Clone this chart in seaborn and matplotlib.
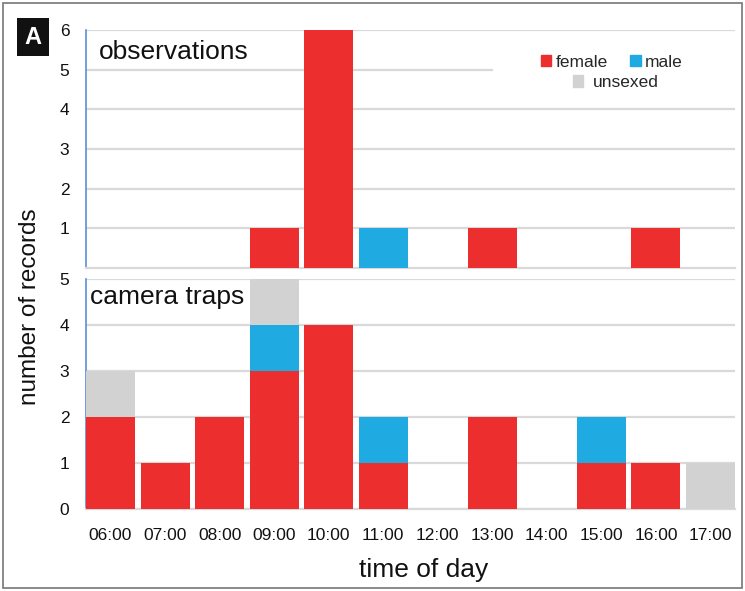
import numpy as np
import pandas as pd
import matplotlib
matplotlib.use('Agg')
import matplotlib.pyplot as plt
from matplotlib.patches import Patch, Rectangle
import seaborn as sns

# ─── Data ─────────────────────────────────────────────────────────────────────
hours = ["06:00", "07:00", "08:00", "09:00", "10:00", "11:00",
         "12:00", "13:00", "14:00", "15:00", "16:00", "17:00"]

obs_female   = [0, 0, 0, 1, 6, 0, 0, 1, 0, 0, 1, 0]
obs_male     = [0, 0, 0, 0, 0, 1, 0, 0, 0, 0, 0, 0]
obs_unsexed  = [0, 0, 0, 0, 0, 0, 0, 0, 0, 0, 0, 0]

cam_female   = [2, 1, 2, 3, 4, 1, 0, 2, 0, 1, 1, 0]
cam_male     = [0, 0, 0, 1, 0, 1, 0, 0, 0, 1, 0, 0]
cam_unsexed  = [1, 0, 0, 1, 0, 0, 0, 0, 0, 0, 0, 1]

C_FEMALE  = "#ED2E2E"
C_MALE    = "#1FAAE1"
C_UNSEXED = "#D2D2D2"
C_GRID    = "#D9D9D9"
C_SPINE   = "#5B8FD9"

sns.set_theme(style="white")
plt.rcParams['font.family'] = ['Liberation Sans', 'DejaVu Sans']

W, H = 745, 591
fig = plt.figure(figsize=(W / 100, H / 100), dpi=100)
ax_top = fig.add_axes([86/W, 1 - 268/H, 649/W, 238/H])
ax_bot = fig.add_axes([86/W, 1 - 509/H, 649/W, 230/H])


def stacked(ax, female, male, unsexed, ymax):
    df = pd.DataFrame({"hour": hours,
                       "female": female, "male": male, "unsexed": unsexed})
    df["fm"] = df["female"] + df["male"]
    df["all"] = df["fm"] + df["unsexed"]
    # draw cumulative layers, top layer first
    for col, c in [("all", C_UNSEXED), ("fm", C_MALE), ("female", C_FEMALE)]:
        sns.barplot(data=df, x="hour", y=col, order=hours, color=c,
                    saturation=1, width=0.9, linewidth=0, ax=ax, zorder=3)
    ax.set_xlim(-0.45, 11.45)
    ax.set_ylim(0, ymax)
    ax.set_xlabel("")
    ax.set_ylabel("")
    ax.yaxis.grid(True, color=C_GRID, linewidth=1.6, zorder=0)
    ax.set_axisbelow(True)
    for s in ["top", "right"]:
        ax.spines[s].set_visible(False)
    ax.spines["bottom"].set_color(C_GRID)
    ax.spines["bottom"].set_linewidth(1.6)
    ax.spines["left"].set_color(C_SPINE)
    ax.spines["left"].set_linewidth(1.2)
    ax.tick_params(axis="y", length=0, pad=12, labelsize=12.5, labelcolor="#111111")


stacked(ax_top, obs_female, obs_male, obs_unsexed, 6)
ax_top.set_yticks([1, 2, 3, 4, 5, 6])
ax_top.set_xticks([])
ax_top.text(0.02, 0.96, "observations", transform=ax_top.transAxes,
            fontsize=19, va="top", ha="left", color="#111111")

# white block behind the legend hides the grid lines there
ax_top.add_patch(Rectangle(((493 - 86) / 649, (268 - 102) / 238),
                           (735 - 493) / 649, 60 / 238,
                           transform=ax_top.transAxes, facecolor="white",
                           edgecolor="none", zorder=1))

stacked(ax_bot, cam_female, cam_male, cam_unsexed, 5)
ax_bot.set_yticks([0, 1, 2, 3, 4, 5])
ax_bot.tick_params(axis="x", length=0, pad=14, labelsize=12.5, labelcolor="#111111")
ax_bot.text(0.006, 0.975, "camera traps", transform=ax_bot.transAxes,
            fontsize=19, va="top", ha="left", color="#111111", zorder=5)

# legend in two rows: female / male, then unsexed centred below
leg1 = ax_top.legend(handles=[Patch(color=C_FEMALE, label="female"),
                              Patch(color=C_MALE, label="male")],
                     ncol=2, loc="upper left", bbox_to_anchor=(0.695, 0.91),
                     frameon=False, fontsize=12.5, handlelength=0.6,
                     handleheight=0.6, handletextpad=0.25, columnspacing=1.3,
                     borderpad=0.2, borderaxespad=0)
ax_top.add_artist(leg1)
leg2 = ax_top.legend(handles=[Patch(color=C_UNSEXED, label="unsexed")],
                     loc="upper left", bbox_to_anchor=(0.745, 0.825),
                     frameon=False, fontsize=12.5, handlelength=0.6,
                     handleheight=0.6, handletextpad=0.55,
                     borderpad=0.2, borderaxespad=0)

# axis titles
fig.text(30/W, 1 - 307/H, "number of records", rotation=90,
         ha="center", va="center", fontsize=17.5, color="#111111")
fig.text(424/W, 1 - 570/H, "time of day",
         ha="center", va="center", fontsize=19, color="#111111")

# panel letter
fig.text(33/W, 1 - 37/H, "A", ha="center", va="center",
         fontsize=17, fontweight="bold", color="white",
         bbox=dict(boxstyle="square,pad=0.32", facecolor="#111111",
                   edgecolor="none"))

# outer frame
fig.add_artist(Rectangle((3/W, 3/H), 739/W, 585/H,
                         transform=fig.transFigure, fill=False,
                         edgecolor="#777777", linewidth=1.2))

fig.savefig("out.png", dpi=100)
